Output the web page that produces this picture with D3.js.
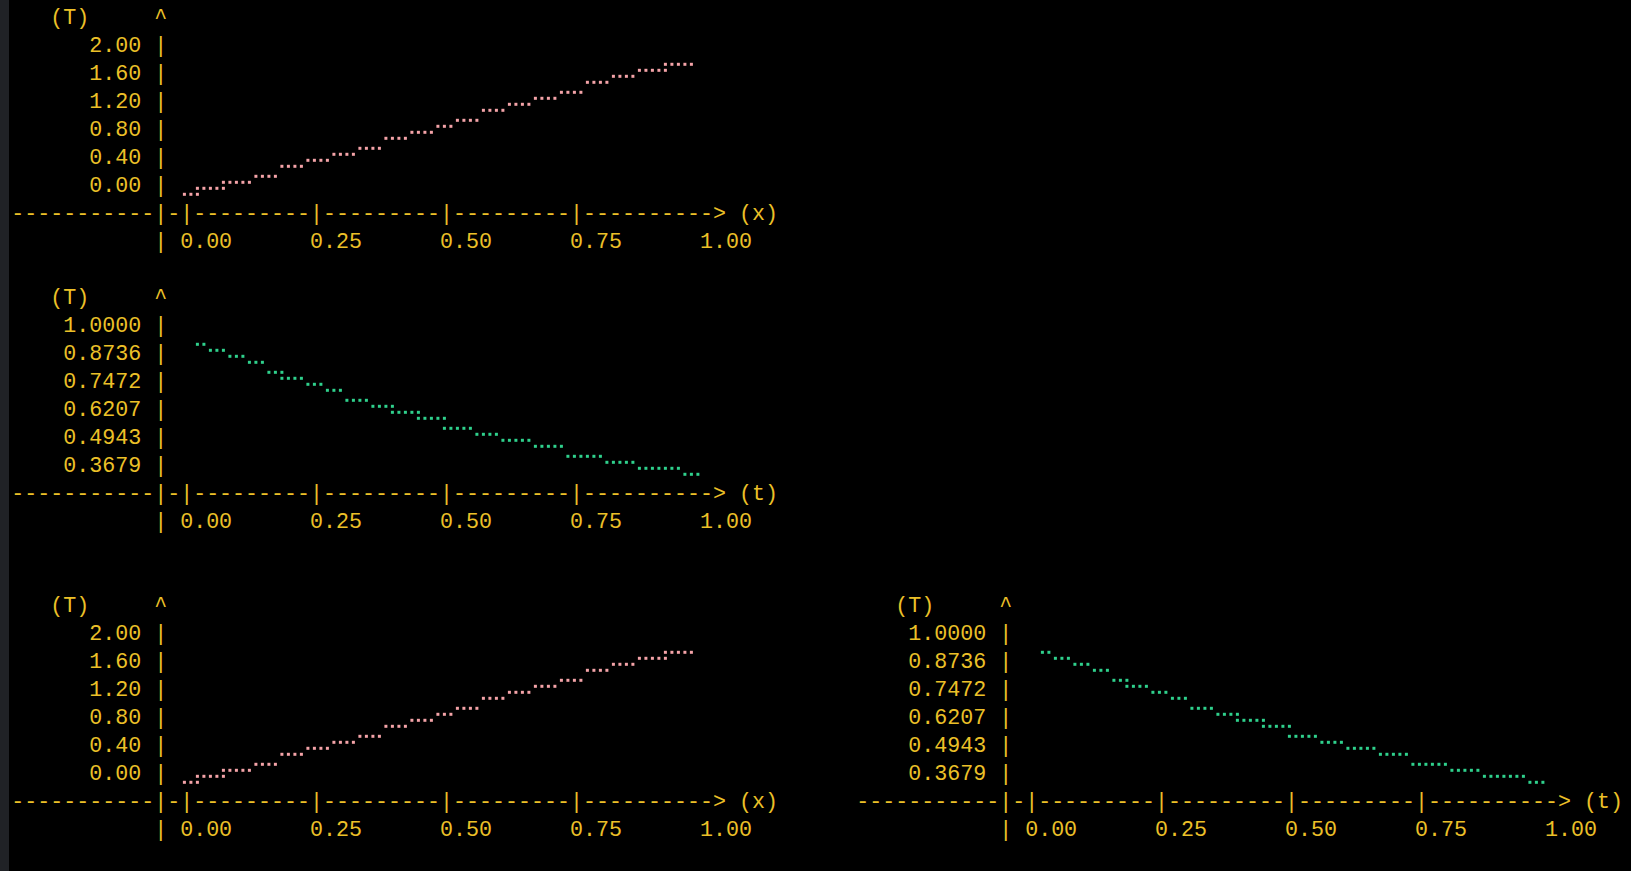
<!DOCTYPE html>
<html>
<head>
<meta charset="utf-8">
<script src="https://cdn.jsdelivr.net/npm/d3@7"></script>
<style>
  html, body { margin: 0; padding: 0; background: #000; overflow: hidden; }
  text { font-family: "Liberation Mono", "DejaVu Sans Mono", monospace; font-size: 21.667px; white-space: pre; }
</style>
</head>
<body>
<script>
// axis tick labels
var xTicks = [0, 0.25, 0.5, 0.75, 1.0];
var tempTicks = ["2.00", "1.60", "1.20", "0.80", "0.40", "0.00"];
var expTicks = ["1.0000", "0.8736", "0.7472", "0.6207", "0.4943", "0.3679"];

// T(x) staircase: dot row inside the panel, first and last dot column
var tempRows = [27, 26, 25, 24, 23, 22, 21, 20, 19, 18, 17, 16, 15, 14, 13, 12, 11, 10, 9, 8];
var tempFrom = [26, 28, 32, 37, 41, 45, 49, 53, 57, 61, 65, 68, 72, 76, 80, 84, 88, 92, 96, 100];
var tempTo   = [28, 32, 36, 40, 44, 48, 52, 56, 60, 64, 67, 71, 75, 79, 83, 87, 91, 95, 100, 104];

// T(t) staircase
var expRows = [8, 9, 10, 11, 12, 13, 14, 15, 16, 17, 18, 19, 20, 21, 22, 23, 24, 25, 26, 27];
var expFrom = [28, 30, 33, 36, 39, 41, 45, 48, 51, 55, 58, 62, 66, 71, 75, 80, 85, 91, 96, 103];
var expTo   = [29, 32, 35, 38, 41, 44, 47, 50, 54, 58, 62, 66, 70, 74, 79, 84, 90, 95, 102, 105];

var width = 1631, height = 871;
var textColor = "#ecc028";

var svg = d3.select("body").append("svg")
  .attr("width", width)
  .attr("height", height);

svg.append("rect").attr("width", width).attr("height", height).attr("fill", "#000");
// terminal side strip
svg.append("rect").attr("width", 9).attr("height", height).attr("fill", "#202226");

// character grid
var colX = d3.scaleLinear().domain([0, 1]).range([11.2, 24.2]);
var rowY = d3.scaleLinear().domain([0, 1]).range([3, 31]);
// braille dot grid (2 dots per character cell)
var dotX = d3.scaleLinear().domain([0, 1]).range([15.4, 21.9]);
var tickCol = d3.scaleLinear().domain([0, 1]).range([13, 53]);

function line(g, col, row, str) {
  g.append("text")
    .attr("x", colX(col))
    .attr("y", rowY(row) + 21)
    .attr("fill", textColor)
    .text(str);
}

function panel(col0, row0, yTicks, xName, rows, from, to, color) {
  var g = svg.append("g");

  line(g, col0, row0, "   (T)     ^");
  yTicks.forEach(function(t, i) {
    line(g, col0, row0 + 1 + i, t.padStart(10) + " |");
  });

  // x axis drawn as characters
  var chars = d3.range(54).map(() => "-");
  chars[11] = "|";
  xTicks.forEach(function(t) {
    if (t < 1) chars[Math.round(tickCol(t))] = "|";
  });
  line(g, col0, row0 + 7, chars.join("") + "> (" + xName + ")");

  var labels = d3.range(58).map(() => " ");
  labels[11] = "|";
  xTicks.forEach(function(t) {
    var c = Math.round(tickCol(t));
    t.toFixed(2).split("").forEach((ch, k) => labels[c + k] = ch);
  });
  line(g, col0, row0 + 8, labels.join("").replace(/\s+$/, ""));

  // expand runs into dots
  var dots = [];
  rows.forEach(function(r, i) {
    d3.range(from[i], to[i] + 1).forEach(function(j) {
      dots.push({ j: j + col0 * 2, r: r });
    });
  });

  g.selectAll("rect.dot")
    .data(dots)
    .enter()
    .append("rect")
    .attr("class", "dot")
    .attr("x", d => dotX(d.j) - 1.5)
    .attr("y", d => rowY(row0 + Math.floor(d.r / 4)) + 5.3 + 6 * (d.r % 4) - 1.5)
    .attr("width", 3)
    .attr("height", 3)
    .attr("fill", color);
}

panel(0, 0, tempTicks, "x", tempRows, tempFrom, tempTo, "#f4a3a8");
panel(0, 10, expTicks, "t", expRows, expFrom, expTo, "#2fd08c");
panel(0, 21, tempTicks, "x", tempRows, tempFrom, tempTo, "#f4a3a8");
panel(65, 21, expTicks, "t", expRows, expFrom, expTo, "#2fd08c");
</script>
</body>
</html>
